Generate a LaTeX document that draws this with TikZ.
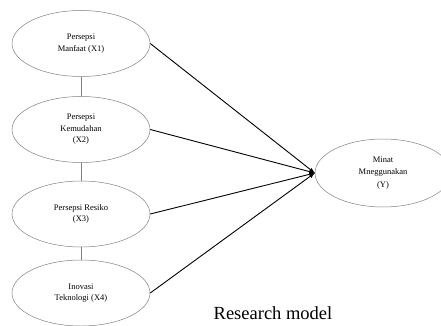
\documentclass[tikz,border=0pt]{standalone}
\usepackage{fontspec}
\setmainfont{Liberation Serif}
\usepackage{tikz}
\usetikzlibrary{shapes.geometric}

\begin{document}
\begin{tikzpicture}[x=1pt,y=-1pt,
    var/.style={draw=gray,ellipse,line width=0.5pt,minimum width=138pt,minimum height=66pt,
                inner sep=0pt,align=center,font=\fontsize{8.5}{11.5}\selectfont},
    link/.style={draw=gray,line width=0.6pt},
    path/.style={-latex,line width=0.9pt}]
                    \useasboundingbox (0,0) rectangle (441,326);

                    \node[var] (x1) at (81, 43.5) {Persepsi\\Manfaat (X1)};
                    \node[var] (x2) at (81, 129.5) {Persepsi\\Kemudahan\\(X2)};
                    \node[var] (x3) at (81, 214) {Persepsi Resiko\\(X3)};
                    \node[var] (x4) at (81, 293) {Inovasi\\Teknologi (X4)};
                    \node[var,minimum width=136pt,minimum height=68pt,font=\fontsize{8.5}{12.5}\selectfont] (y) at (383, 173) {Minat\\Mneggunakan\\(Y)};

                    \draw[link] (x1) -- (x2);
                    \draw[link] (x2) -- (x3);
                    \draw[link] (x3) -- (x4);

                    \draw[path] (x1.east) -- (y.west);
                    \draw[path] (x2.east) -- (y.west);
                    \draw[path] (x3.east) -- (y.west);
                    \draw[path] (x4.east) -- (y.west);

                    \node[font=\fontsize{18.5}{20}\selectfont] (cap) at (273, 313) {Research model};
                \end{tikzpicture}
\end{document}
